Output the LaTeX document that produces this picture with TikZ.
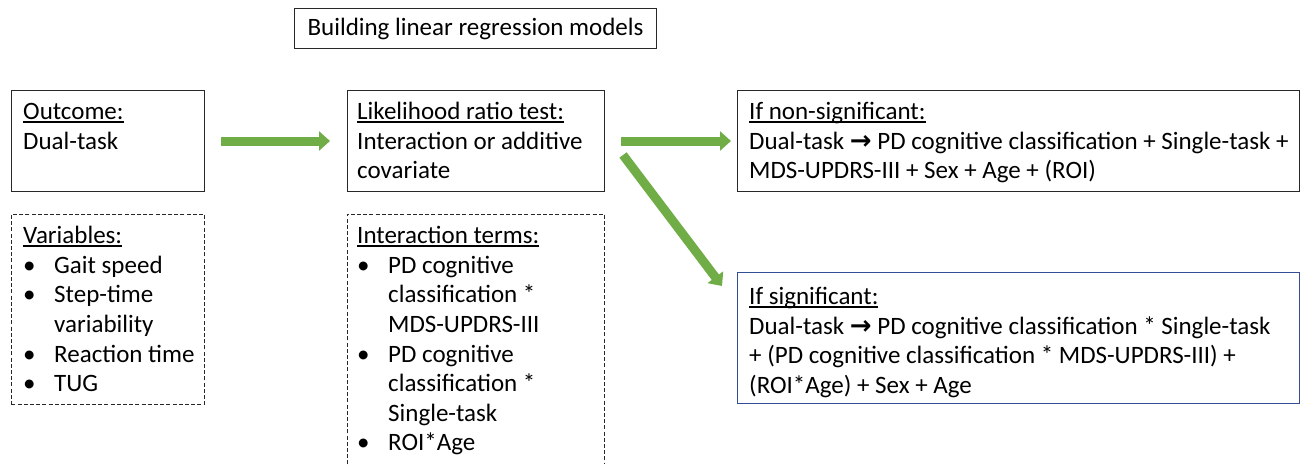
\documentclass[tikz,border=0pt]{standalone}
\usepackage{fontspec}
\setmainfont{Carlito}
\newfontfamily\symfont{DejaVu Sans}
\usetikzlibrary{arrows.meta}
\definecolor{arrgreen}{RGB}{112,173,71}
\definecolor{boxblue}{RGB}{52,78,150}
\definecolor{edge}{RGB}{40,40,40}
\newcommand\ulx[1]{\setbox0=\hbox{#1}\rlap{\rule[-2.8pt]{\wd0}{1.2pt}}\box0}
\newcommand\bul{\makebox[31pt][l]{\textbullet}}
\newcommand\ind{\hspace*{31pt}}
\newcommand\ra{{\symfont\bfseries\fontsize{26}{28}\selectfont\raisebox{-0.5pt}{→}}}
\begin{document}
\begin{tikzpicture}[x=1pt,y=-1pt,
  box/.style={draw=edge,line width=1.1pt,rectangle,inner sep=0pt,anchor=north west},
  dbox/.style={box,dash pattern=on 4pt off 2.2pt,line width=0.9pt},
  txt/.style={anchor=north west,inner sep=0pt,align=left,font=\fontsize{25}{29.6}\selectfont},
  garrow/.style={draw=arrgreen,line width=9pt,-{Triangle[length=11pt,width=19pt]}}]
\useasboundingbox (0,0) rectangle (1306,464);
% title
\node[box,minimum width=362pt,minimum height=40pt,font=\fontsize{25}{29}\selectfont] (title) at (294,8) {Building linear regression models};
% left column
\node[box,minimum width=193pt,minimum height=101pt] (outcome) at (11,90) {};
\node[txt] (outcomet) at (23,98.8) {\strut\ulx{Outcome:}\\Dual-task};
\node[dbox,minimum width=193pt,minimum height=190pt] (vars) at (11,214) {};
\node[txt] (varst) at (23,222.8) {\strut\ulx{Variables:}\\\bul Gait speed\\\bul Step-time\\\ind variability\\\bul Reaction time\\\bul TUG};
% middle column
\node[box,minimum width=257pt,minimum height=101pt] (lrt) at (347,90) {};
\node[txt] (lrtt) at (357,98.8) {\strut\ulx{Likelihood ratio test:}\\Interaction or additive\\covariate};
\node[inner sep=0pt,minimum width=257pt,minimum height=250pt,anchor=north west] (inter) at (347,214) {};
\draw[edge,dash pattern=on 4pt off 2.2pt,line width=0.9pt] (inter.south west) -- (inter.north west) -- (inter.north east) -- (inter.south east);
\node[txt] (intert) at (357,222.8) {\strut\ulx{Interaction terms:}\\\bul PD cognitive\\\ind classification *\\\ind MDS-UPDRS-III\\\bul PD cognitive\\\ind classification *\\\ind Single-task\\\bul ROI*Age};
% right column
\node[box,minimum width=562pt,minimum height=101pt] (nonsig) at (737,90) {};
\node[txt] (nonsigt) at (749,98.8) {\strut\ulx{If non-significant:}\\Dual-task \ra{} PD cognitive classification + Single-task +\\MDS-UPDRS-III + Sex + Age + (ROI)};
\node[box,draw=boxblue,minimum width=562pt,minimum height=131pt] (sig) at (737,272) {};
\node[txt] (sigt) at (749,283.8) {\strut\ulx{If significant:}\\Dual-task \ra{} PD cognitive classification * Single-task\\+ (PD cognitive classification * MDS-UPDRS-III) +\\(ROI*Age) + Sex + Age};
% arrows
\coordinate (a1s) at (221,141);
\coordinate (a1e) at (330,141);
\coordinate (a2s) at (621,141);
\coordinate (a2e) at (731,141);
\coordinate (a3s) at (623,155);
\coordinate (a3e) at (722,286);
\draw[garrow] (a1s) -- (a1e);
\draw[garrow] (a2s) -- (a2e);
\draw[garrow] (a3s) -- (a3e);
\end{tikzpicture}
\end{document}
